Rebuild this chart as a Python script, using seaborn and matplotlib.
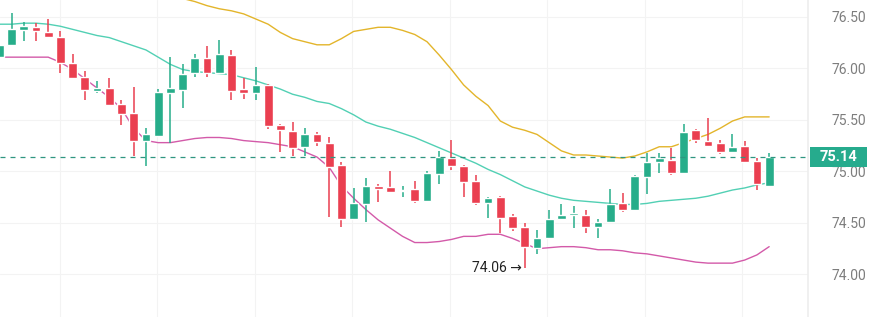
import matplotlib.pyplot as plt
import matplotlib.patches as mpatches
import numpy as np
import pandas as pd
import seaborn as sns

# candle values
opens = [76.11, 76.23, 76.37, 76.40, 76.35, 76.31, 76.05, 75.92, 75.78, 75.81,
         75.66, 75.57, 75.30, 75.34, 75.76, 75.79, 75.96, 76.10, 75.96, 76.13,
         75.80, 75.76, 75.84, 75.45, 75.39, 75.24, 75.36, 75.28, 75.06, 74.54,
         74.68, 74.86, 74.85, 74.81, 74.83, 74.71, 74.98, 75.13, 75.05, 74.91,
         74.69, 74.75, 74.57, 74.46, 74.26, 74.35, 74.54, 74.58, 74.58, 74.46,
         74.51, 74.69, 74.63, 74.95, 75.09, 75.11, 74.99, 75.40, 75.30, 75.28,
         75.19, 75.25, 75.10, 74.86]
highs = [76.26, 76.54, 76.45, 76.44, 76.48, 76.36, 76.14, 75.98, 75.88, 75.91,
         75.69, 75.82, 75.42, 75.80, 76.11, 76.04, 76.14, 76.22, 76.28, 76.18,
         75.91, 76.01, 75.85, 75.46, 75.48, 75.42, 75.38, 75.33, 75.09, 74.84,
         74.94, 74.88, 75.00, 74.86, 74.91, 75.00, 75.20, 75.31, 75.06, 74.97,
         74.75, 74.76, 74.59, 74.50, 74.43, 74.63, 74.68, 74.66, 74.63, 74.54,
         74.83, 74.79, 74.97, 75.18, 75.18, 75.23, 75.46, 75.41, 75.52, 75.31,
         75.36, 75.30, 75.13, 75.18]
lows = [76.10, 76.22, 76.27, 76.27, 76.30, 75.96, 75.90, 75.69, 75.76, 75.64,
        75.45, 75.15, 75.05, 75.33, 75.28, 75.62, 75.92, 75.92, 75.95, 75.69,
        75.70, 75.69, 75.41, 75.19, 75.15, 75.15, 75.25, 74.56, 74.46, 74.53,
        74.51, 74.70, 74.79, 74.75, 74.69, 74.70, 74.88, 75.01, 74.75, 74.67,
        74.55, 74.40, 74.42, 74.06, 74.20, 74.34, 74.53, 74.45, 74.40, 74.35,
        74.50, 74.61, 74.62, 74.78, 74.99, 74.97, 74.98, 75.28, 75.24, 75.17,
        75.18, 75.08, 74.82, 74.85]
closes = [76.23, 76.38, 76.41, 76.36, 76.31, 76.05, 75.91, 75.79, 75.81, 75.65,
          75.56, 75.30, 75.36, 75.77, 75.81, 75.95, 76.10, 75.96, 76.14, 75.78,
          75.76, 75.84, 75.44, 75.40, 75.23, 75.36, 75.29, 75.04, 74.54, 74.69,
          74.86, 74.83, 74.80, 74.82, 74.71, 74.99, 75.14, 75.05, 74.90, 74.69,
          74.74, 74.55, 74.45, 74.27, 74.35, 74.54, 74.58, 74.59, 74.46, 74.51,
          74.68, 74.63, 74.96, 75.09, 75.13, 74.99, 75.38, 75.31, 75.25, 75.19,
          75.24, 75.09, 74.88, 75.14]

# bollinger bands, one value per candle (upper runs above the visible range at the start)
upper = [np.nan] * 12 + [
    76.85, 76.78, 76.72, 76.68, 76.65, 76.61, 76.58, 76.56, 76.53, 76.48,
    76.43, 76.35, 76.29, 76.26, 76.23, 76.23, 76.29, 76.36, 76.38,
    76.40, 76.40, 76.37, 76.33, 76.26, 76.13, 75.99, 75.84, 75.73, 75.64,
    75.49, 75.43, 75.40, 75.36, 75.28, 75.20, 75.16, 75.16, 75.15, 75.14,
    75.13, 75.15, 75.19, 75.24, 75.24, 75.28, 75.32, 75.36, 75.42, 75.49,
    75.53, 75.53, 75.53]
middle = [76.43, 76.43, 76.44, 76.44, 76.43, 76.41, 76.38, 76.35, 76.32, 76.30,
          76.26, 76.22, 76.18, 76.11, 76.04, 75.99, 75.97, 75.96, 75.95, 75.94,
          75.91, 75.88, 75.84, 75.80, 75.75, 75.72, 75.68, 75.66, 75.61, 75.55,
          75.48, 75.44, 75.41, 75.37, 75.33, 75.28, 75.23, 75.18, 75.13,
          75.08, 75.02, 74.97, 74.91, 74.85, 74.81, 74.77, 74.74, 74.72, 74.71,
          74.70, 74.69, 74.68, 74.68, 74.69, 74.71, 74.72, 74.73, 74.74, 74.76,
          74.79, 74.82, 74.84, 74.87, 74.89]
lower = [76.11, 76.11, 76.11, 76.11, 76.11, 76.06, 75.99, 75.90, 75.81, 75.72,
         75.61, 75.42, 75.30, 75.28, 75.28, 75.30, 75.32, 75.33, 75.33, 75.32,
         75.30, 75.29, 75.28, 75.26, 75.24, 75.19, 75.14, 75.04, 74.86, 74.74,
         74.63, 74.53, 74.45, 74.37, 74.31, 74.31, 74.32, 74.34, 74.37,
         74.37, 74.39, 74.39, 74.35, 74.30, 74.25, 74.26, 74.27, 74.27, 74.26,
         74.24, 74.24, 74.23, 74.21, 74.20, 74.18, 74.16, 74.14, 74.12, 74.11,
         74.11, 74.11, 74.14, 74.19, 74.27]

price_ticks = [74.0, 74.5, 75.0, 75.5, 76.0, 76.5]
last_price = 75.14
low_price = 74.06

green = "#27ad8a"
red = "#ea3f50"

sns.set_theme(style="white")
plt.rcParams["font.family"] = ["Roboto", "DejaVu Sans"]

candles = pd.DataFrame({"open": opens, "high": highs, "low": lows, "close": closes})
candles["i"] = np.arange(len(candles))
candles["up"] = candles["close"] >= candles["open"]
candles["color"] = np.where(candles["up"], green, red)
body_lo = candles[["open", "close"]].min(axis=1)
body_h = (candles["close"] - candles["open"]).abs().clip(lower=0.012)

bands = pd.DataFrame({"i": np.arange(len(middle)), "upper": upper,
                      "middle": middle, "lower": lower})

fig = plt.figure(figsize=(8.7, 3.17), dpi=100)
ax = fig.add_axes([0, 0, 808 / 870, 1])

# faint grid
for gx in np.arange(4.95, 67, 7.98):
    ax.axvline(gx, color="#f3f3f3", lw=0.8, zorder=0)
for gy in price_ticks:
    ax.axhline(gy, color="#f3f3f3", lw=0.8, zorder=0)

sns.lineplot(data=bands, x="i", y="upper", color="#e3b52b", lw=1.0, ax=ax, zorder=1)
sns.lineplot(data=bands, x="i", y="middle", color="#52d0b4", lw=1.0, ax=ax, zorder=1)
sns.lineplot(data=bands, x="i", y="lower", color="#d35aa9", lw=1.0, ax=ax, zorder=1)

ax.vlines(candles["i"], candles["low"], candles["high"], colors=candles["color"], lw=1.1, zorder=2)
ax.bar(candles["i"], body_h, bottom=body_lo, width=0.72, color=candles["color"], zorder=3)

ax.axhline(last_price, color="#2f9680", lw=0.9, ls=(0, (4, 4)), zorder=4, clip_on=False)

low_i = int(np.argmin(lows))
ax.text(low_i - 0.25, low_price, "74.06 \u2192", ha="right", va="center",
        fontsize=10, color="#222222")

ax.set_xlim(0.7 / 12.22, 808.7 / 12.22)
ax.set_ylim(73.587, 76.665)
ax.set_xticks([])
ax.set_xlabel("")
ax.set_ylabel("")
ax.yaxis.tick_right()
ax.set_yticks(price_ticks)
ax.set_yticklabels([f"{t:.2f}" for t in price_ticks])
ax.tick_params(axis="y", length=0, pad=17, labelsize=10, labelcolor="#7d7d7d")
for s in ["top", "left", "bottom"]:
    ax.spines[s].set_visible(False)
ax.spines["right"].set_color("#eeeeee")

# last price tag
trans = ax.get_yaxis_transform()
ax.add_patch(mpatches.Rectangle((1 + 2 / 808, last_price - 0.097), 57 / 808, 0.194,
                                transform=trans, facecolor="#26ab8d", edgecolor="none",
                                clip_on=False, zorder=10))
ax.text(1 + 31 / 808, last_price, f"{last_price:.2f}", transform=trans, ha="center",
        va="center", color="white", fontsize=10.5, fontweight="bold", zorder=11,
        clip_on=False)

fig.savefig("out.png", dpi=100)
